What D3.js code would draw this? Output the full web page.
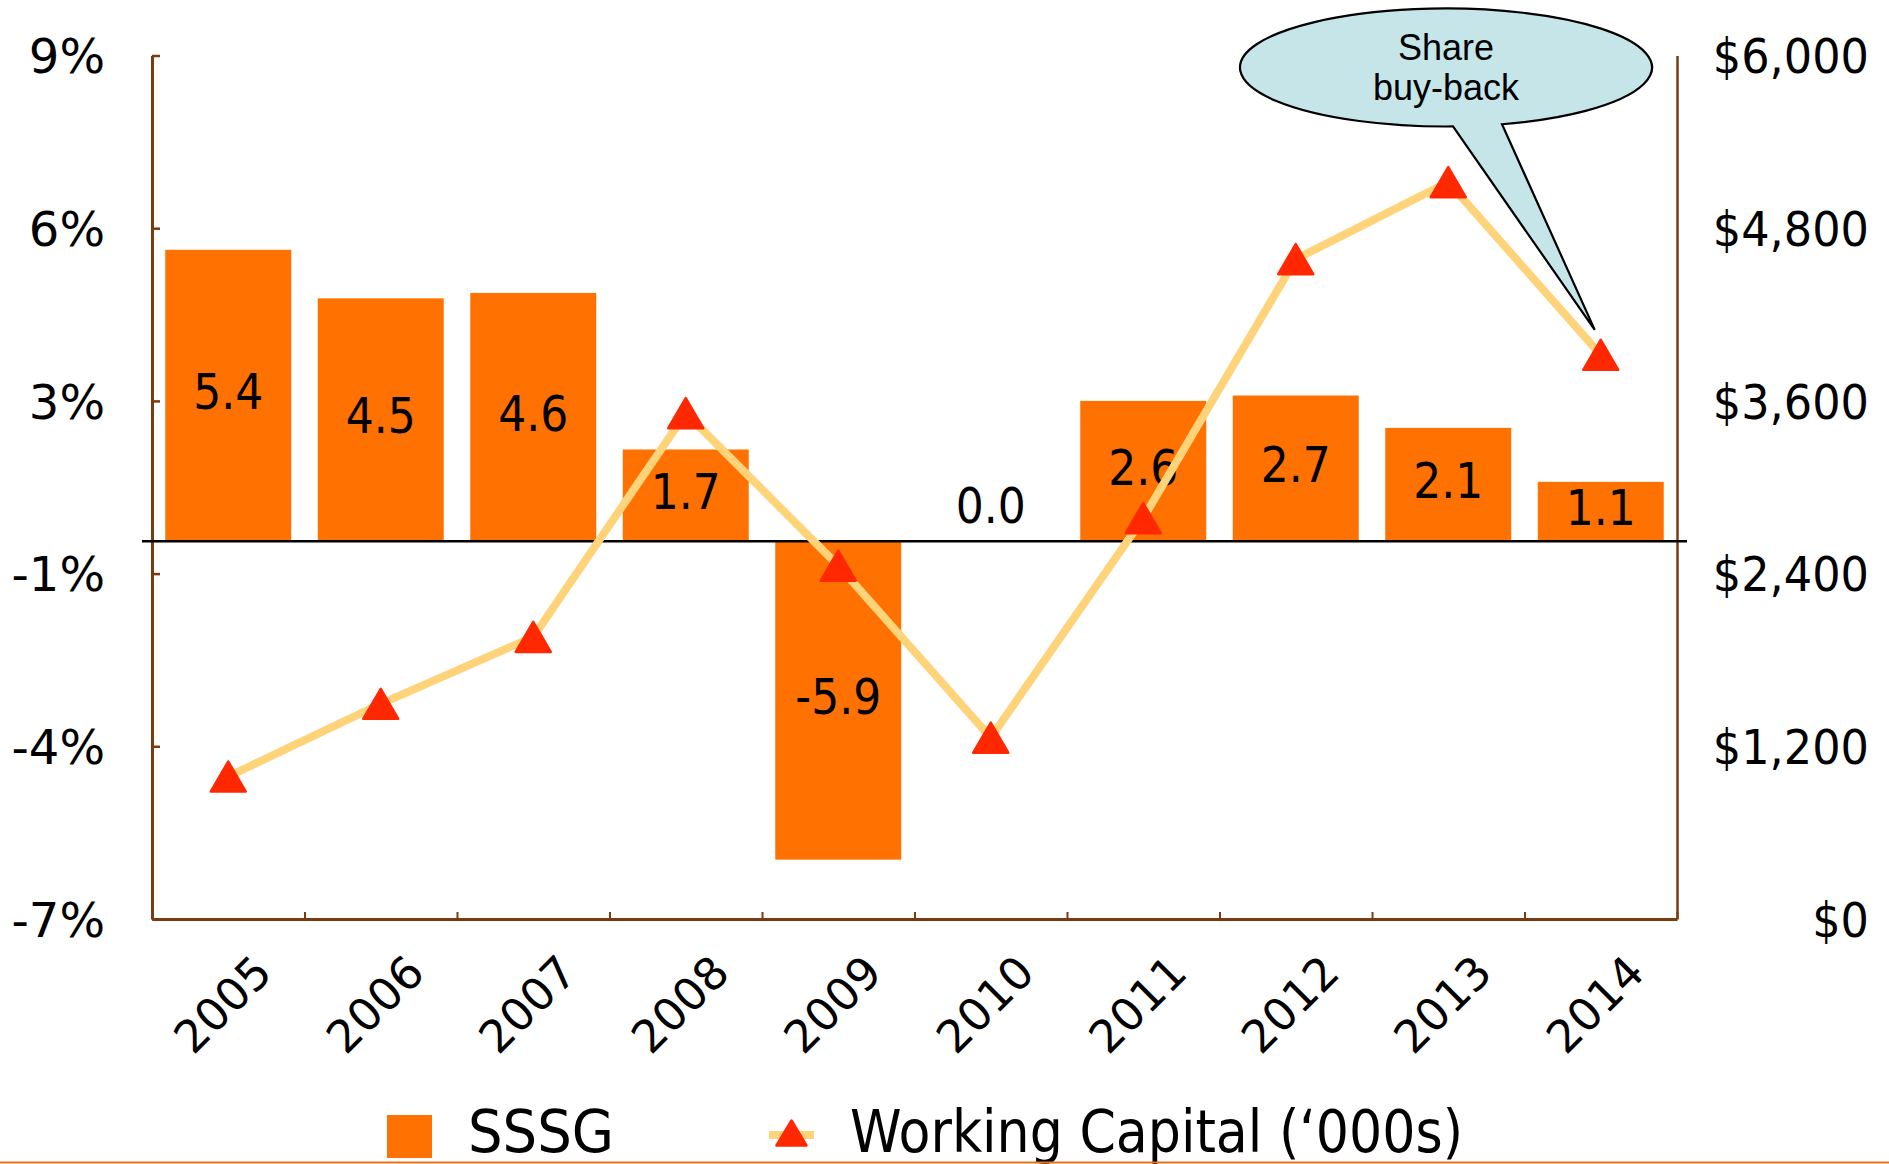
<!DOCTYPE html>
<html>
<head>
<meta charset="utf-8">
<script src="https://cdn.jsdelivr.net/npm/d3@7"></script>
<style>
  html, body { margin: 0; padding: 0; background: #fff; }
  svg { display: block; }
  text { font-family: "DejaVu Sans", sans-serif; fill: #000; }
  text.callout { font-family: "Liberation Sans", Arial, sans-serif; }
</style>
</head>
<body>
<svg id="chart" width="1889" height="1164"></svg>
<script>
// ---- data ----
const years = ["2005","2006","2007","2008","2009","2010","2011","2012","2013","2014"];
const sssg = [5.4, 4.5, 4.6, 1.7, -5.9, 0.0, 2.6, 2.7, 2.1, 1.1];
const workingCapital = [990, 1495, 1960, 3515, 2455, 1260, 2785, 4585, 5120, 3920];
const leftTicks = [9, 5.8, 2.6, -0.6, -3.8, -7];
const leftTickLabels = ["9%", "6%", "3%", "-1%", "-4%", "-7%"];
const rightTicks = [0, 1200, 2400, 3600, 4800, 6000];
const seriesNames = ["SSSG", "Working Capital (\u2018000s)"];
const calloutLines = ["Share", "buy-back"];

// ---- layout ----
const L = 152, R = 1677, T = 55.5, B = 919;
const barColor = "#FF7100", lineColor = "#FFD37A", markerColor = "#FF2800", axisColor = "#7A3B0E";

const svg = d3.select("#chart");

const x = d3.scaleBand().domain(years).range([L, R]).paddingInner(0.174).paddingOuter(0.087);
const xIdx = d3.scaleLinear().domain([0, years.length]).range([L, R]);
const yL = d3.scaleLinear().domain([-7, 9]).range([B, T]);
const yR = d3.scaleLinear().domain([0, 6000]).range([B, T]);
const cx = d => x(d) + x.bandwidth() / 2;

// bars
svg.append("g").selectAll("rect").data(years).join("rect")
  .attr("x", d => x(d))
  .attr("width", x.bandwidth())
  .attr("y", (d, i) => Math.min(yL(sssg[i]), yL(0)))
  .attr("height", (d, i) => Math.abs(yL(sssg[i]) - yL(0)))
  .attr("fill", barColor);

// left axis
const gL = svg.append("g").attr("transform", `translate(${L},0)`)
  .call(d3.axisLeft(yL).tickValues(leftTicks).tickSize(-8).tickSizeOuter(0).tickPadding(47)
    .tickFormat((d, i) => leftTickLabels[i]));
gL.select(".domain").attr("stroke", axisColor).attr("stroke-width", 3);
gL.selectAll(".tick line").attr("stroke", axisColor).attr("stroke-width", 2.5);
gL.selectAll(".tick text").attr("font-size", 48).attr("dy", "0.36em").attr("fill", "#000");

// bottom axis (ticks at category boundaries)
const gB = svg.append("g").attr("transform", `translate(0,${B})`)
  .call(d3.axisBottom(xIdx).tickValues(d3.range(1, years.length + 1)).tickSize(-7).tickSizeOuter(0).tickFormat(""));
gB.select(".domain").attr("stroke", axisColor).attr("stroke-width", 3);
gB.selectAll(".tick line").attr("stroke", axisColor).attr("stroke-width", 2);

// right axis
const gR = svg.append("g").attr("transform", `translate(${R},0)`)
  .call(d3.axisRight(yR).tickValues(rightTicks).tickSize(0).tickSizeOuter(0)
    .tickFormat(d => "$" + d3.format(",")(d)));
gR.select(".domain").attr("stroke", axisColor).attr("stroke-width", 2.5);
gR.selectAll(".tick text")
  .attr("font-size", 48).attr("fill", "#000")
  .attr("text-anchor", "end").attr("x", 0).attr("dy", "0.36em")
  .attr("transform", "translate(192,0) scale(0.93,1)");

// x labels
svg.append("g").selectAll("text").data(years).join("text")
  .attr("transform", d => `translate(${cx(d) + 46},975) rotate(-45)`)
  .attr("text-anchor", "end")
  .attr("font-size", 45)
  .text(d => d);

// bar labels
svg.append("g").selectAll("text").data(years).join("text")
  .attr("transform", (d, i) => {
    const v = sssg[i];
    const yy = v === 0 ? yL(0) - 18 : (yL(v) + yL(0)) / 2 + 13.5;
    return `translate(${cx(d)},${yy}) scale(0.88,1)`;
  })
  .attr("text-anchor", "middle")
  .attr("font-size", 50)
  .text((d, i) => sssg[i].toFixed(1));

// zero line
svg.append("line")
  .attr("x1", L - 10).attr("x2", R + 10)
  .attr("y1", yL(0)).attr("y2", yL(0))
  .attr("stroke", "#000").attr("stroke-width", 2.5);

// working capital line
const line = d3.line().x((d, i) => cx(years[i])).y(d => yR(d));
svg.append("path").datum(workingCapital)
  .attr("d", line)
  .attr("fill", "none").attr("stroke", lineColor).attr("stroke-width", 8)
  .attr("stroke-linejoin", "round");

const tri = (px, py, w, h) => `M${px},${py - h / 2}L${px + w / 2},${py + h / 2}L${px - w / 2},${py + h / 2}Z`;
svg.append("g").selectAll("path").data(workingCapital).join("path")
  .attr("d", (d, i) => tri(cx(years[i]), yR(d), 35, 30))
  .attr("fill", markerColor).attr("stroke", markerColor).attr("stroke-width", 2.5)
  .attr("stroke-linejoin", "round");

// callout
const ecx = 1446, ecy = 67.5, erx = 206, ery = 59;
const ePt = px => [px, ecy + ery * Math.sqrt(1 - Math.pow((px - ecx) / erx, 2))];
const lb = ePt(1453), rb = ePt(1502);
const lastI = years.length - 1;
const tip = [cx(years[lastI]) - 6, yR(workingCapital[lastI]) - 25];
svg.append("path")
  .attr("d", `M${lb[0]},${lb[1]}L${tip[0]},${tip[1]}L${rb[0]},${rb[1]}A${erx},${ery} 0 1 0 ${lb[0]},${lb[1]}Z`)
  .attr("fill", "#C5E5E8").attr("stroke", "#000").attr("stroke-width", 2.2)
  .attr("stroke-linejoin", "miter");
svg.append("g").selectAll("text").data(calloutLines).join("text")
  .attr("class", "callout")
  .attr("x", ecx).attr("y", (d, i) => 59.5 + i * 40.5)
  .attr("text-anchor", "middle")
  .attr("font-size", 36)
  .text(d => d);

// legend
const lg = svg.append("g");
lg.append("rect").attr("x", 387).attr("y", 1115).attr("width", 45).attr("height", 43).attr("fill", barColor);
lg.append("text").attr("x", 468).attr("y", 1152).attr("font-size", 59)
  .attr("textLength", 146).attr("lengthAdjust", "spacingAndGlyphs").text(seriesNames[0]);
lg.append("line").attr("x1", 769).attr("x2", 814).attr("y1", 1135).attr("y2", 1135)
  .attr("stroke", lineColor).attr("stroke-width", 8);
lg.append("path").attr("d", tri(791.5, 1133, 30, 25))
  .attr("fill", markerColor).attr("stroke", markerColor).attr("stroke-width", 2.5).attr("stroke-linejoin", "round");
lg.append("text").attr("x", 850).attr("y", 1152).attr("font-size", 59)
  .attr("textLength", 613).attr("lengthAdjust", "spacingAndGlyphs").text(seriesNames[1]);

// slide bottom rule
svg.append("line").attr("x1", 0).attr("x2", 1889).attr("y1", 1162.5).attr("y2", 1162.5)
  .attr("stroke", "#E8731A").attr("stroke-width", 2);
</script>
</body>
</html>
